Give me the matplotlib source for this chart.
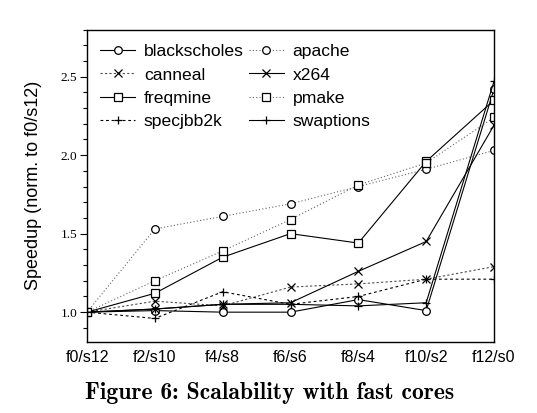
import matplotlib
matplotlib.use("Agg")
import matplotlib.pyplot as plt
from matplotlib.ticker import MultipleLocator

configs = ["f0/s12", "f2/s10", "f4/s8", "f6/s6", "f8/s4", "f10/s2", "f12/s0"]

# speedup normalised to f0/s12
blackscholes = [1.00, 1.01, 1.00, 1.00, 1.08, 1.01, 2.42]
apache = [1.00, 1.53, 1.61, 1.69, 1.80, 1.91, 2.03]
canneal = [1.00, 1.07, 1.04, 1.16, 1.18, 1.21, 1.29]
x264 = [1.00, 1.02, 1.05, 1.06, 1.26, 1.45, 2.19]
freqmine = [1.00, 1.12, 1.35, 1.50, 1.44, 1.96, 2.35]
pmake = [1.00, 1.20, 1.39, 1.59, 1.81, 1.95, 2.24]
specjbb2k = [1.00, 0.96, 1.13, 1.05, 1.10, 1.21, 1.21]
swaptions = [1.00, 1.02, 1.05, 1.05, 1.04, 1.06, 2.47]

# order = legend column-wise (col1 then col2)
series = [
    ("blackscholes", blackscholes, "o", "-", "black"),
    ("canneal", canneal, "x", (0, (2, 2)), "0.3"),
    ("freqmine", freqmine, "s", "-", "black"),
    ("specjbb2k", specjbb2k, "+", (0, (2.5, 2.5)), "black"),
    ("apache", apache, "o", (0, (1, 2)), "0.4"),
    ("x264", x264, "x", "-", "black"),
    ("pmake", pmake, "s", (0, (1, 2)), "0.4"),
    ("swaptions", swaptions, "+", "-", "black"),
]

fig = plt.figure(figsize=(5.37, 4.13), dpi=100)
ax = fig.add_axes([87 / 537, 1 - 342 / 413, 407 / 537, 312.5 / 413])

x = list(range(len(configs)))
for name, vals, mk, ls, col in series:
    ax.plot(x, vals, linestyle=ls, color=col, linewidth=0.8,
            marker=mk, markersize=5.5, markerfacecolor="white",
            markeredgecolor="black", markeredgewidth=0.9, label=name)

ax.set_xlim(0, 6)
ax.set_ylim(0.81, 2.80)
ax.set_xticks(x)
ax.set_xticklabels(configs, fontsize=11.5, family="Liberation Sans")
ax.tick_params(axis="x", length=0, pad=6)

ax.yaxis.set_major_locator(MultipleLocator(0.5))
ax.yaxis.set_minor_locator(MultipleLocator(0.1))
ax.set_yticks([1.0, 1.5, 2.0, 2.5])
ax.set_yticklabels(["1.0", "1.5", "2.0", "2.5"], fontsize=9.5,
                   family="Liberation Serif")
ax.tick_params(axis="y", which="major", length=5, width=0.8, pad=2,
               direction="out")
ax.tick_params(axis="y", which="minor", length=3, width=0.8,
               direction="out")

ax.set_ylabel("Speedup (norm. to f0/s12)", fontsize=13,
              family="Liberation Sans")
ax.yaxis.set_label_coords(-0.11, 0.5)

for s in ax.spines.values():
    s.set_linewidth(1.0)

ax.legend(ncol=2, loc="upper left", bbox_to_anchor=(0.032, 0.953),
          frameon=False, borderpad=0, borderaxespad=0,
          handlelength=2.0, handletextpad=0.5, columnspacing=0.3,
          labelspacing=0.45, prop={"family": "Liberation Sans", "size": 12.6})

fig.text(270 / 537, 1 - 393 / 413, "Figure 6: Scalability with fast cores",
         ha="center", va="center", fontsize=17, family="cmb10")

fig.savefig("out.png", dpi=100)
